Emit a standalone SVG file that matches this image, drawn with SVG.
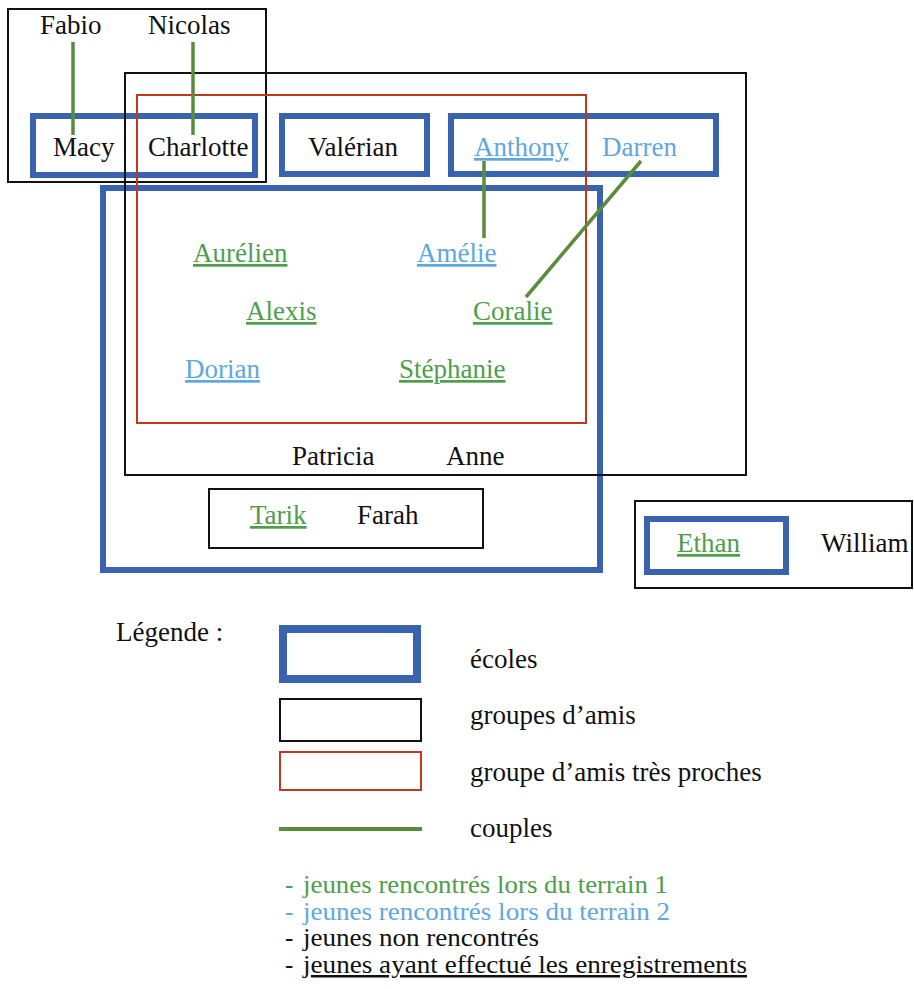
<svg xmlns="http://www.w3.org/2000/svg" width="914" height="989" viewBox="0 0 914 989">
<style>
text{font-family:"Liberation Serif","DejaVu Serif",serif;font-size:27px;fill:#111}
.g{fill:#4e9e4a;text-decoration:underline}
.gn{fill:#4e9e4a}
.b{fill:#5ea8e0;text-decoration:underline}
.bn{fill:#5ea8e0}
.u{text-decoration:underline}
.leg{font-size:25px}
.school{fill:none;stroke:#3a63ad;stroke-width:6}
.friends{fill:none;stroke:#111;stroke-width:2}
.close{fill:none;stroke:#c0391b;stroke-width:2}
.couple{stroke:#5a8c3c;stroke-width:3.5;fill:none}
</style>
<rect width="914" height="989" fill="#fff"/>
<g id="schools">
<rect id="school-macy" class="school" x="33" y="116" width="222" height="59"/>
<rect id="school-valerian" class="school" x="282" y="116" width="145" height="58"/>
<rect id="school-anthony" class="school" x="451" y="116" width="265" height="58"/>
<rect id="school-big" class="school" x="103" y="188" width="497" height="382"/>
<rect id="school-ethan" class="school" x="647" y="519" width="139" height="53"/>
</g>
<g id="friend-groups">
<rect id="group-fabio" class="friends" x="8" y="9" width="258" height="173"/>
<rect id="group-big" class="friends" x="125" y="73" width="621" height="402"/>
<rect id="group-tarik" class="friends" x="209" y="489" width="274" height="59"/>
<rect id="group-ethan" class="friends" x="635" y="501" width="277" height="87"/>
</g>
<g id="close-groups">
<rect id="close-main" class="close" x="137" y="95" width="449" height="328"/>
</g>
<g id="connectors">
<line class="couple" x1="73" y1="42" x2="73" y2="135"/>
<line class="couple" x1="193" y1="42" x2="193" y2="135"/>
<line class="couple" x1="484" y1="161" x2="484" y2="238"/>
<line class="couple" x1="641" y1="161" x2="526" y2="297"/>
</g>
<g id="n-fabio"><text x="40" y="34">Fabio</text></g>
<g id="n-nicolas"><text x="148" y="34">Nicolas</text></g>
<g id="n-macy"><text x="53" y="156">Macy</text></g>
<g id="n-charlotte"><text x="148" y="156">Charlotte</text></g>
<g id="n-valerian"><text x="308" y="156">Valérian</text></g>
<g id="n-anthony"><text class="b" x="474" y="156">Anthony</text></g>
<g id="n-darren"><text class="bn" x="602" y="156">Darren</text></g>
<g id="n-aurelien"><text class="g" x="193" y="262">Aurélien</text></g>
<g id="n-amelie"><text class="b" x="417" y="262">Amélie</text></g>
<g id="n-alexis"><text class="g" x="246" y="320">Alexis</text></g>
<g id="n-coralie"><text class="g" x="473" y="320">Coralie</text></g>
<g id="n-dorian"><text class="b" x="185" y="378">Dorian</text></g>
<g id="n-stephanie"><text class="g" x="399" y="378">Stéphanie</text></g>
<g id="n-patricia"><text x="292" y="465">Patricia</text></g>
<g id="n-anne"><text x="446" y="465">Anne</text></g>
<g id="n-tarik"><text class="g" x="250" y="524">Tarik</text></g>
<g id="n-farah"><text x="357" y="524">Farah</text></g>
<g id="n-ethan"><text class="g" x="677" y="552">Ethan</text></g>
<g id="n-william"><text x="821" y="552">William</text></g>
<g id="legend">
<text x="116" y="641">Légende :</text>
<rect x="283" y="629" width="134" height="50" fill="none" stroke="#3a63ad" stroke-width="8"/>
<text x="470" y="668">écoles</text>
<rect x="280" y="699" width="141" height="42" class="friends"/>
<text x="470" y="724">groupes d’amis</text>
<rect x="280" y="752" width="141" height="38" class="close"/>
<text x="470" y="781">groupe d’amis très proches</text>
<line x1="279" y1="829" x2="422" y2="829" stroke="#5a8c3c" stroke-width="4"/>
<text x="470" y="837">couples</text>
<text class="leg gn" y="893"><tspan x="285">-</tspan><tspan x="303" textLength="365" lengthAdjust="spacingAndGlyphs">jeunes rencontrés lors du terrain 1</tspan></text>
<text class="leg bn" y="920"><tspan x="285">-</tspan><tspan x="303" textLength="367" lengthAdjust="spacingAndGlyphs">jeunes rencontrés lors du terrain 2</tspan></text>
<text class="leg" y="946"><tspan x="285">-</tspan><tspan x="303" textLength="236" lengthAdjust="spacingAndGlyphs">jeunes non rencontrés</tspan></text>
<text class="leg" y="973"><tspan x="285">-</tspan><tspan x="303" class="u" textLength="444" lengthAdjust="spacingAndGlyphs">jeunes ayant effectué les enregistrements</tspan></text>
</g>
</svg>
